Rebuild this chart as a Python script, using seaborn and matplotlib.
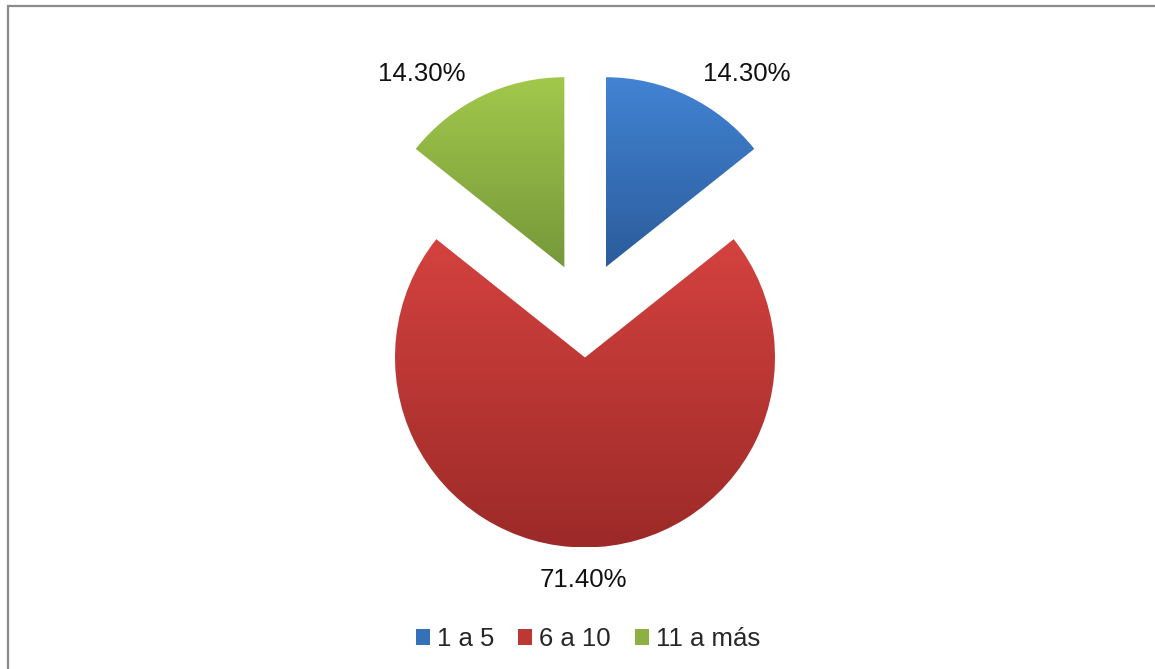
"""
Exploded pie chart: distribution in three ranges (1 a 5, 6 a 10, 11 a más).
"""
import matplotlib
matplotlib.use("Agg")
import matplotlib.pyplot as plt
import numpy as np
import seaborn as sns
from matplotlib.colors import LinearSegmentedColormap
from matplotlib.patches import Patch, Rectangle

categories = ["1 a 5", "6 a 10", "11 a más"]
shares = [14.30, 71.40, 14.30]
top_colors = ["#4283d3", "#d4423f", "#a2c84b"]
bottom_colors = ["#2b5c9b", "#9c2a28", "#76983a"]
mid_colors = ["#3670b8", "#bd3835", "#8cb142"]

sns.set_theme(style="white")
plt.rcParams["font.family"] = ["Liberation Sans", "DejaVu Sans"]

W, H, DPI = 1155, 669, 100
R_PX = 190.0          # pie radius in pixels
CX, CY = 585.0, 310.0  # pie centre (pixels from top-left)

fig = plt.figure(figsize=(W / DPI, H / DPI), dpi=DPI)
fig.patch.set_facecolor("white")
ax = fig.add_axes([0, 0, 1, 1])
ax.set_xlim(-CX / R_PX, (W - CX) / R_PX)
ax.set_ylim(-(H - CY) / R_PX, CY / R_PX)
ax.set_aspect("equal")
ax.axis("off")

wedges, _ = ax.pie(
    shares,
    radius=1.0,
    explode=[0.25] * len(shares),
    startangle=90,
    counterclock=False,
    wedgeprops=dict(linewidth=0, edgecolor="none"),
)

# vertical gradient inside each wedge
grad = np.linspace(0, 1, 256).reshape(-1, 1)
for w, c_top, c_bot in zip(wedges, top_colors, bottom_colors):
    w.set_facecolor("none")
    bb = w.get_path().get_extents(w.get_transform()).transformed(ax.transData.inverted())
    cmap = LinearSegmentedColormap.from_list("g", [c_top, c_bot])
    im = ax.imshow(grad, cmap=cmap, aspect="auto",
                   extent=[bb.x0, bb.x1, bb.y0, bb.y1], origin="upper", zorder=1)
    im.set_clip_path(w)

ax.set_xlim(-CX / R_PX, (W - CX) / R_PX)
ax.set_ylim(-(H - CY) / R_PX, CY / R_PX)

# percentage labels (Excel-like placement)
label_offsets = [(0.85, 1.24), (-0.01, -1.42), (-0.86, 1.24)]
for val, (dx, dy) in zip(shares, label_offsets):
    ax.text(dx, dy, f"{val:.2f}%", ha="center", va="center",
            fontsize=18.5, color="#111111")

handles = [Patch(facecolor=c, edgecolor="none") for c in mid_colors]
fig.legend(handles, categories, loc="center", ncol=3,
           bbox_to_anchor=(0.509, 1 - 639 / H), frameon=False,
           fontsize=18.5, handlelength=0.55, handleheight=0.55,
           handletextpad=0.25, columnspacing=0.95)

# chart-area border (cropped at right and bottom like the source)
fig.patches.append(Rectangle((8 / W, -0.05), 1.2, 1 - 6 / H + 0.05,
                             transform=fig.transFigure, fill=False,
                             edgecolor="#8a8a8a", linewidth=1.6))

fig.savefig("out.png", dpi=DPI, facecolor="white")
plt.close(fig)
